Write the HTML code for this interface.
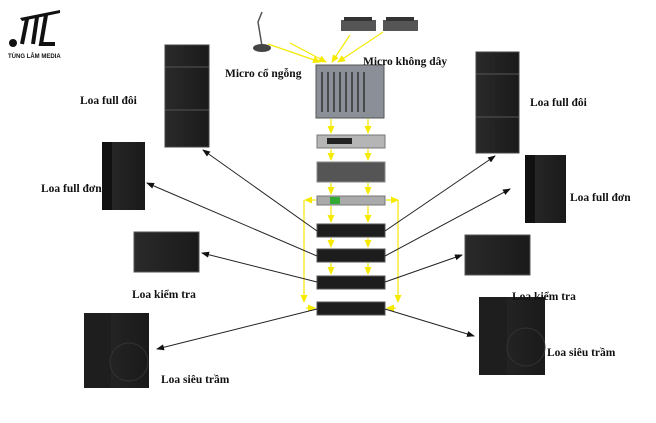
<!DOCTYPE html>
<html><head><meta charset="utf-8"><style>
html,body{margin:0;padding:0;background:#fff;width:656px;height:423px;overflow:hidden}
svg text{font-family:"Liberation Serif",serif;font-weight:bold;font-size:11.5px;fill:#111}
</style></head><body>
<svg width="656" height="423" viewBox="0 0 656 423" xmlns="http://www.w3.org/2000/svg">
<defs>
<marker id="ab" markerWidth="8" markerHeight="6" refX="7" refY="3" orient="auto" markerUnits="userSpaceOnUse"><path d="M0,0L8,3L0,6z" fill="#111"/></marker>
<marker id="ay" markerWidth="8" markerHeight="7" refX="7" refY="3.5" orient="auto" markerUnits="userSpaceOnUse"><path d="M0,0L8,3.5L0,7z" fill="#f5ea00"/></marker>
<linearGradient id="spk" x1="0" x2="1"><stop offset="0" stop-color="#2a2a2a"/><stop offset="1" stop-color="#1a1a1a"/></linearGradient>
</defs>
<path d="M20,18 L60,10 L60,13 L22,21z" fill="#111"/>
<path d="M27,19 L22,44 M37,17 L33,44 M46,15 L41,44 L55,44" stroke="#111" stroke-width="4" fill="none"/>
<circle cx="13" cy="43" r="4" fill="#111"/>
<text x="8" y="58" style="font-family:'Liberation Sans',sans-serif;font-size:6px">TÙNG LÂM MEDIA</text>

<rect x="165" y="45" width="44" height="102" fill="url(#spk)" stroke="#444"/>
<line x1="165" y1="67" x2="209" y2="67" stroke="#555"/><line x1="165" y1="110" x2="209" y2="110" stroke="#555"/>
<rect x="102" y="142" width="43" height="68" fill="url(#spk)"/>
<rect x="102" y="142" width="10" height="68" fill="#111"/>
<rect x="134" y="232" width="65" height="40" fill="url(#spk)" stroke="#555"/>
<rect x="84" y="313" width="65" height="75" fill="url(#spk)"/>
<rect x="84" y="313" width="27" height="75" fill="#1e1e1e"/>
<circle cx="129" cy="362" r="19" fill="none" stroke="#333"/>
<rect x="476" y="52" width="43" height="101" fill="url(#spk)" stroke="#444"/>
<line x1="476" y1="74" x2="519" y2="74" stroke="#555"/><line x1="476" y1="117" x2="519" y2="117" stroke="#555"/>
<rect x="525" y="155" width="41" height="68" fill="url(#spk)"/>
<rect x="525" y="155" width="10" height="68" fill="#111"/>
<rect x="465" y="235" width="65" height="40" fill="url(#spk)" stroke="#555"/>
<rect x="479" y="297" width="66" height="78" fill="url(#spk)"/>
<rect x="479" y="297" width="28" height="78" fill="#1e1e1e"/>
<circle cx="526" cy="347" r="19" fill="none" stroke="#333"/>

<path d="M262,12 L258,22 L262,46" stroke="#555" stroke-width="1.5" fill="none"/>
<ellipse cx="262" cy="48" rx="9" ry="4" fill="#444"/>
<rect x="341" y="20" width="35" height="11" fill="#555"/><rect x="344" y="17" width="28" height="4" fill="#333"/>
<rect x="383" y="20" width="35" height="11" fill="#555"/><rect x="386" y="17" width="28" height="4" fill="#333"/>
<g stroke="#f5ea00" stroke-width="1.2" fill="none">
<line x1="268" y1="44" x2="320" y2="62" marker-end="url(#ay)"/>
<line x1="290" y1="43" x2="326" y2="62" marker-end="url(#ay)"/>
<line x1="350" y1="35" x2="332" y2="62" marker-end="url(#ay)"/>
<line x1="383" y1="32" x2="338" y2="62" marker-end="url(#ay)"/>
</g>
<rect x="316" y="65" width="68" height="53" fill="#8a8f98" stroke="#555"/>
<g stroke="#333" stroke-width="1.5">
<line x1="322" y1="72" x2="322" y2="112"/><line x1="328" y1="72" x2="328" y2="112"/><line x1="334" y1="72" x2="334" y2="112"/><line x1="340" y1="72" x2="340" y2="112"/><line x1="346" y1="72" x2="346" y2="112"/><line x1="352" y1="72" x2="352" y2="112"/><line x1="358" y1="72" x2="358" y2="112"/><line x1="364" y1="72" x2="364" y2="112"/>
</g>
<rect x="317" y="135" width="68" height="13" fill="#b5b5b5" stroke="#777"/><rect x="327" y="138" width="25" height="6" fill="#222"/>
<rect x="317" y="162" width="68" height="20" fill="#555" stroke="#888"/>
<rect x="317" y="196" width="68" height="9" fill="#aaa" stroke="#777"/><rect x="330" y="197" width="10" height="7" fill="#3a3"/>
<g fill="#1d1d1d" stroke="#555">
<rect x="317" y="224" width="68" height="13"/><rect x="317" y="249" width="68" height="13"/>
<rect x="317" y="276" width="68" height="13"/><rect x="317" y="302" width="68" height="13"/>
</g>
<g stroke="#f5ea00" stroke-width="1.2" fill="none">
<line x1="331" y1="119" x2="331" y2="133" marker-end="url(#ay)"/><line x1="368" y1="119" x2="368" y2="133" marker-end="url(#ay)"/>
<line x1="331" y1="149" x2="331" y2="160" marker-end="url(#ay)"/><line x1="368" y1="149" x2="368" y2="160" marker-end="url(#ay)"/>
<line x1="331" y1="183" x2="331" y2="194" marker-end="url(#ay)"/><line x1="368" y1="183" x2="368" y2="194" marker-end="url(#ay)"/>
<line x1="331" y1="206" x2="331" y2="222" marker-end="url(#ay)"/><line x1="368" y1="206" x2="368" y2="222" marker-end="url(#ay)"/>
<line x1="331" y1="238" x2="331" y2="247" marker-end="url(#ay)"/><line x1="368" y1="238" x2="368" y2="247" marker-end="url(#ay)"/>
<line x1="331" y1="263" x2="331" y2="274" marker-end="url(#ay)"/><line x1="368" y1="263" x2="368" y2="274" marker-end="url(#ay)"/>
<line x1="316" y1="200" x2="305" y2="200" marker-end="url(#ay)"/><line x1="386" y1="200" x2="398" y2="200" marker-end="url(#ay)"/>
<line x1="304" y1="200" x2="304" y2="302" marker-end="url(#ay)"/><line x1="398" y1="200" x2="398" y2="302" marker-end="url(#ay)"/>
<line x1="306" y1="308" x2="315" y2="308" marker-end="url(#ay)"/><line x1="396" y1="308" x2="387" y2="308" marker-end="url(#ay)"/>
</g>
<g stroke="#222" stroke-width="1" fill="none" marker-end="url(#ab)">
<line x1="317" y1="231" x2="203" y2="150"/>
<line x1="317" y1="256" x2="147" y2="183"/>
<line x1="317" y1="282" x2="202" y2="253"/>
<line x1="317" y1="309" x2="157" y2="349"/>
<line x1="385" y1="231" x2="495" y2="156"/>
<line x1="385" y1="256" x2="510" y2="189"/>
<line x1="385" y1="282" x2="462" y2="255"/>
<line x1="385" y1="309" x2="474" y2="336"/>
</g>
<text x="80" y="104">Loa full đôi</text>
<text x="41" y="192">Loa full đơn</text>
<text x="132" y="298">Loa kiểm tra</text>
<text x="161" y="383">Loa siêu trầm</text>
<text x="530" y="106">Loa full đôi</text>
<text x="570" y="201">Loa full đơn</text>
<text x="512" y="300">Loa kiểm tra</text>
<text x="547" y="356">Loa siêu trầm</text>
<text x="225" y="77">Micro cổ ngỗng</text>
<text x="363" y="65">Micro không dây</text>
</svg>
</body></html>
